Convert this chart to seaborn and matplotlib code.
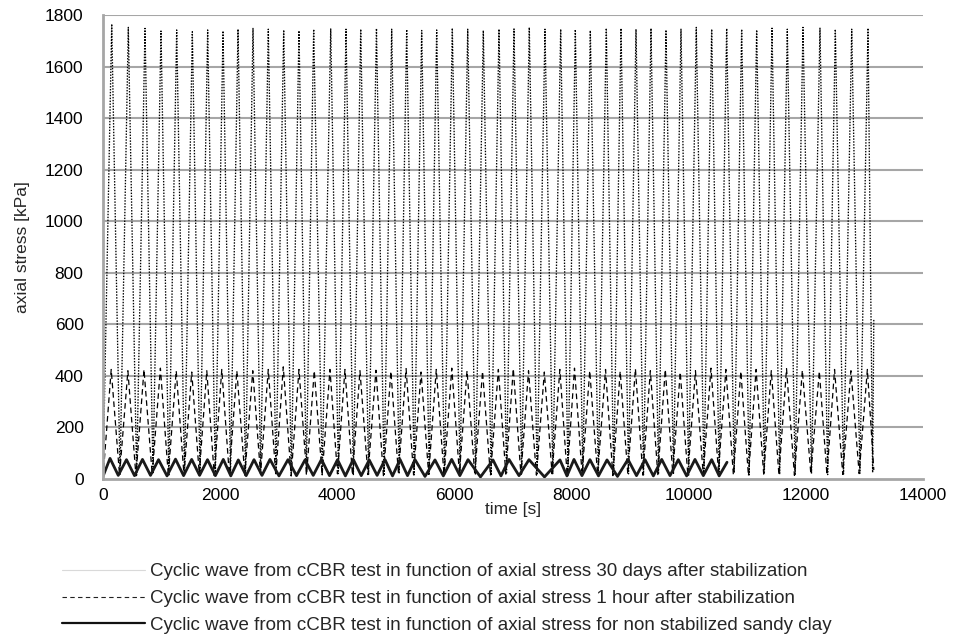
import numpy as np
import pandas as pd
import matplotlib
matplotlib.use("Agg")
import matplotlib.pyplot as plt
from matplotlib.lines import Line2D
import seaborn as sns

# ---- data: peak times [s], peak stresses and trough stresses [kPa] ----
# 30 days after stabilization
d30_peak_t = [149, 432, 717, 990, 1258, 1525, 1787, 2049, 2305, 2561, 2822, 3085, 3346,
              3597, 3888, 4149, 4400, 4669, 4929, 5185, 5441, 5697, 5964, 6227, 6493,
              6761, 7017, 7278, 7546, 7814, 8064, 8320, 8593, 8844, 9100, 9356, 9612,
              9868, 10129, 10392, 10648, 10904, 11160, 11422, 11683, 11951, 12241,
              12503, 12783, 13061]
d30_peak_v = [1765, 1752, 1748, 1738, 1742, 1735, 1742, 1738, 1745, 1748, 1745, 1742, 1739,
              1745, 1746, 1745, 1745, 1748, 1745, 1744, 1740, 1742, 1749, 1745, 1740,
              1745, 1746, 1752, 1745, 1745, 1744, 1740, 1749, 1748, 1745, 1748, 1742,
              1745, 1752, 1745, 1748, 1745, 1742, 1749, 1745, 1752, 1749, 1745, 1745, 1749]
d30_trough_v = [18, 15, 20, 12, 16, 22, 14, 18, 15, 20, 17, 13, 19, 16, 21, 15, 18, 14,
                20, 16, 19, 15, 22, 17, 14, 20, 18, 16, 21, 15, 19, 17, 14, 20, 16, 18,
                22, 15, 19, 17, 24, 16, 20, 18, 15, 21, 17, 19, 22]
d30_start = (0, 10)
d30_end = [(13140, 25), (13160, 620)]

# 1 hour after stabilization
h1_peak_t = [140, 425, 700, 980, 1250, 1515, 1772, 2028, 2285, 2557, 2822, 3078, 3346,
             3607, 3875, 4131, 4387, 4660, 4915, 5175, 5430, 5690, 5955, 6215, 6480,
             6750, 7005, 7265, 7535, 7800, 8050, 8310, 8580, 8830, 9090, 9345, 9600,
             9855, 10115, 10380, 10635, 10890, 11150, 11410, 11670, 11940, 12230,
             12490, 12770, 13050]
h1_peak_v = [425, 420, 425, 430, 420, 415, 420, 425, 420, 420, 425, 435, 425, 420, 425,
             425, 420, 422, 418, 428, 415, 425, 430, 420, 418, 425, 428, 420, 415, 425,
             430, 420, 425, 418, 428, 420, 425, 415, 420, 430, 425, 418, 425, 420, 428,
             422, 418, 425, 420, 425]
h1_trough_v = [15, 12, 18, 14, 16, 20, 13, 17, 15, 19, 14, 12, 18, 16, 20, 15, 17, 13,
               19, 16, 18, 14, 21, 17, 13, 19, 17, 15, 20, 14, 18, 16, 13, 19, 15, 17,
               22, 14, 18, 30, 16, 12, 19, 17, 14, 20, 16, 18, 21]
h1_start = (0, 5)
h1_end = [(13160, 35)]

# non stabilized sandy clay
ns_peak_t = [120, 401, 674, 948, 1238, 1514, 1784, 2054, 2310, 2578, 2851, 3158, 3449,
             3730, 4004, 4273, 4545, 4815, 5071, 5327, 5668, 5953, 6232, 6658, 6932,
             7273, 7802, 8041, 8314, 8605, 8963, 9254, 9539, 9822, 10107, 10392]
ns_peak_v = [80, 75, 76, 75, 77, 76, 75, 76, 74, 75, 76, 75, 74, 76, 75, 76, 74, 75,
             76, 75, 74, 76, 75, 74, 76, 75, 74, 76, 75, 74, 76, 75, 76, 75, 76, 75]
ns_trough_v = [14, 13, 14, 12, 13, 14, 13, 12, 13, 14, 12, 13, 14, 13, 12, 13, 14, 12,
               13, 10, 12, 13, 8, 12, 13, 8, 12, 13, 12, 10, 13, 12, 13, 12, 13]
ns_start = (0, 10)
ns_end = [(10520, 12), (10654, 65)]

x_ticks = [0, 2000, 4000, 6000, 8000, 10000, 12000, 14000]
y_ticks = list(range(0, 1801, 200))

labels = [
    "Cyclic wave from cCBR test in function of axial stress 30 days after stabilization",
    "Cyclic wave from cCBR test in function of axial stress 1 hour after stabilization",
    "Cyclic wave from cCBR test in function of axial stress for non stabilized sandy clay",
]


def wave(start, peak_t, peak_v, trough_v, end):
    """Join start, alternating peaks and mid-way troughs, and end points."""
    t, v = [start[0]], [start[1]]
    for i, (pt, pv) in enumerate(zip(peak_t, peak_v)):
        t.append(pt)
        v.append(pv)
        if i < len(trough_v) and i + 1 < len(peak_t):
            t.append((pt + peak_t[i + 1]) / 2)
            v.append(trough_v[i])
    for et, ev in end:
        t.append(et)
        v.append(ev)
    return pd.DataFrame({"time": t, "stress": v})


d30 = wave(d30_start, d30_peak_t, d30_peak_v, d30_trough_v, d30_end)
h1 = wave(h1_start, h1_peak_t, h1_peak_v, h1_trough_v, h1_end)
ns = wave(ns_start, ns_peak_t, ns_peak_v, ns_trough_v, ns_end)

sns.set_theme(style="white")
plt.rcParams["font.family"] = ["Liberation Sans", "DejaVu Sans"]

W, H = 956, 636
fig = plt.figure(figsize=(W / 100, H / 100), dpi=100)
ax = fig.add_axes([103 / W, 1 - 479 / H, 820 / W, 464 / H])

grid_c = "#a6a6a6"
for yv in y_ticks[1:]:
    ax.axhline(yv, color=grid_c, lw=1.5, zorder=0)

sns.lineplot(data=d30, x="time", y="stress", sort=False, estimator=None, ax=ax,
             color="#000000", lw=0.95, linestyle=(0, (1.1, 1.1)))
sns.lineplot(data=h1, x="time", y="stress", sort=False, estimator=None, ax=ax,
             color="#000000", lw=0.9, linestyle=(0, (4.5, 3)))
sns.lineplot(data=ns, x="time", y="stress", sort=False, estimator=None, ax=ax,
             color="#1a1a1a", lw=2.0)

ax.set_xlim(0, 14000)
ax.set_ylim(0, 1800)
ax.set_xticks(x_ticks)
ax.set_yticks(y_ticks)
ax.set_xticklabels([str(v) for v in x_ticks])
ax.set_yticklabels([str(v) for v in y_ticks])
ax.tick_params(axis="both", colors=grid_c, labelcolor="#000000", labelsize=12.5,
               direction="out", width=1.5)
ax.tick_params(axis="x", length=6, pad=0.5)
ax.tick_params(axis="y", length=6, pad=8)
for side in ("top", "right"):
    ax.spines[side].set_visible(False)
for side in ("left", "bottom"):
    ax.spines[side].set_color(grid_c)
    ax.spines[side].set_linewidth(2)
ax.set_xlabel("time [s]", fontsize=12.5, labelpad=-1)
ax.set_ylabel("axial stress [kPa]", fontsize=12.5, labelpad=11)

handles = [
    Line2D([], [], color="#d9d9d9", lw=0.8),
    Line2D([], [], color="#222222", lw=0.8, linestyle=(0, (4, 3))),
    Line2D([], [], color="#111111", lw=1.6),
]
fig.legend(handles, labels, loc="center left", bbox_to_anchor=(62 / W, 1 - 598.5 / H),
           frameon=False, borderpad=0, borderaxespad=0, handlelength=4.4,
           handletextpad=0.3, labelspacing=0.52,
           prop={"family": ["Liberation Sans Narrow", "Liberation Sans"], "size": 13.5})

fig.savefig("out.png", dpi=100)
